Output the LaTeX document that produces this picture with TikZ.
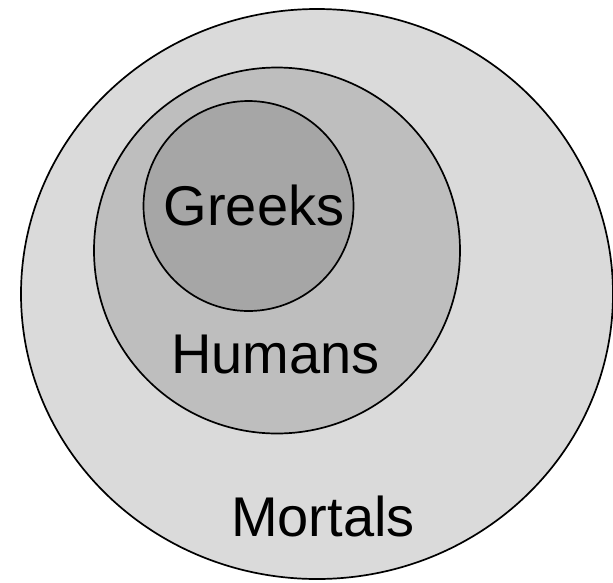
\documentclass[tikz,border=0pt]{standalone}
\usepackage{fontspec}
\setmainfont{Liberation Sans}
\usetikzlibrary{shapes.geometric}
\definecolor{outerfill}{HTML}{DADADA}
\definecolor{midfill}{HTML}{BEBEBE}
\definecolor{innerfill}{HTML}{A6A6A6}
\begin{document}
\begin{tikzpicture}[x=1pt,y=-1pt,
  setshape/.style={draw=black, line width=1.7pt, inner sep=0pt, outer sep=0pt},
  lbl/.style={font=\fontsize{56}{60}\selectfont, anchor=base, inner sep=0pt}]
\useasboundingbox (0,0) rectangle (613,582);
\node[setshape, ellipse, fill=outerfill, minimum width=592pt, minimum height=570pt] (mortals) at (317,294) {};
\node[setshape, circle, fill=midfill, minimum size=366pt] (humans) at (277,250.5) {};
\node[setshape, circle, fill=innerfill, minimum size=210pt] (greeks) at (248.5,206) {};
\node[lbl] (tgreeks) at (254,225) {Greeks};
\node[lbl] (thumans) at (275.5,373) {Humans};
\node[lbl] (tmortals) at (323,536) {Mortals};
\end{tikzpicture}
\end{document}
